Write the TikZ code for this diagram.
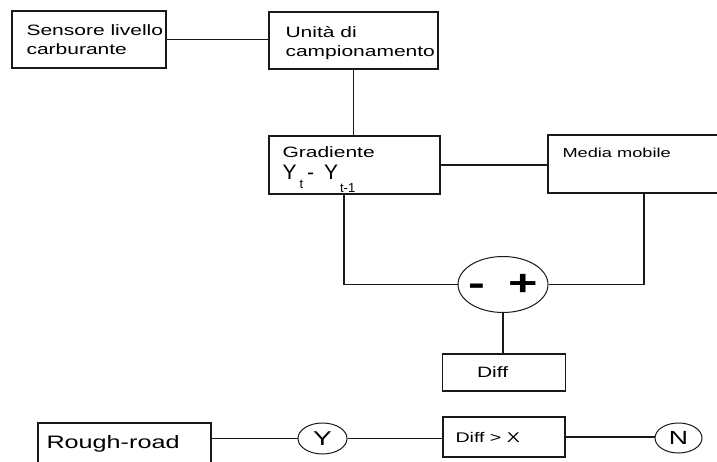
\documentclass[tikz,border=0pt]{standalone}
\usepackage{fontspec}
\setmainfont{Liberation Sans}[FakeStretch=1.4]
\newfontfamily\formulafont{Liberation Sans}
\usetikzlibrary{positioning,shapes.geometric}

\tikzset{
  block/.style={draw=black!90, line width=1.4pt, rectangle, inner sep=0pt},
  bubble/.style={draw=black!90, line width=1pt, ellipse, inner sep=0pt},
  wire/.style={draw=black!90, line width=1.4pt},
  txt/.style={inner sep=0pt, align=left, font=\fontsize{15}{19}\selectfont},
}

\begin{document}
\begin{tikzpicture}[x=1pt, y=-1pt]
  \useasboundingbox (0,0) rectangle (717,462);
  \fill[white] (0,0) rectangle (717,462);
  \clip (0,0) rectangle (717,462);

  % boxes
  \node[block, minimum width=154pt, minimum height=57pt] (sensore) at (89,39.5) {};
  \node[block, minimum width=169pt, minimum height=57pt] (unita) at (353.5,40.5) {};
  \node[block, minimum width=171pt, minimum height=58pt] (gradiente) at (354.5,165) {};
  \node[block, minimum width=192pt, minimum height=58pt] (media) at (644,164) {};
  \node[bubble, minimum width=90pt, minimum height=56pt] (sum) at (503,284.5)
    {\makebox[0pt]{\fontsize{36}{36}\selectfont\bfseries -\hspace{23pt}+}};
  \node[block, minimum width=123pt, minimum height=37pt] (diff) at (504,372.5) {};
  \node[block, minimum width=173pt, minimum height=41pt] (rough) at (124.5,443.5) {};
  \node[bubble, minimum width=49pt, minimum height=31pt] (yes) at (322.5,438.5)
    {\fontsize{20}{20}\selectfont Y};
  \node[block, minimum width=122pt, minimum height=40pt] (diffx) at (504,437) {};
  \node[bubble, minimum width=47pt, minimum height=30pt] (no) at (678.5,438)
    {\fontsize{19}{19}\selectfont N};

  % texts
  \node[txt, anchor=north west] (sensore-txt) at ([shift={(15pt,-14pt)}]sensore.north west)
    {Sensore livello\\carburante};
  \node[txt, anchor=north west] (unita-txt) at ([shift={(17pt,-15pt)}]unita.north west)
    {Unità di\\campionamento};
  \node[txt, anchor=base west] (grad-txt) at ([shift={(14pt,-22pt)}]gradiente.north west)
    {Gradiente};
  \node[txt, anchor=base west] (grad-formula) at ([shift={(14pt,-44pt)}]gradiente.north west)
    {\formulafont\fontsize{21}{21}\selectfont
     Y\hspace{3pt}\raisebox{-9pt}{\fontsize{13}{13}\selectfont t}\hspace{4pt}-\hspace{10pt}Y\hspace{2pt}\raisebox{-13pt}{\fontsize{13}{13}\selectfont t-1}};
  \node[txt, anchor=base west, font=\fontsize{13}{13}\selectfont] (media-txt)
    at ([shift={(15pt,-23pt)}]media.north west) {Media mobile};
  \node[txt, anchor=west] (diff-txt) at ([xshift=35pt]diff.west) {Diff};
  \node[txt, anchor=west, font=\fontsize{14}{14}\selectfont] (diffx-txt)
    at ([xshift=13pt]diffx.west) {Diff > X};
  \node[txt, anchor=base west, font=\fontsize{18}{18}\selectfont] (rough-txt)
    at ([shift={(9pt,-26pt)}]rough.north west) {Rough-road};

  % connections
  \draw[wire] (sensore.east) -- (sensore.east -| unita.west);
  \draw[wire] (unita.south) -- (unita.south |- gradiente.north);
  \draw[wire] (gradiente.east) -- (gradiente.east -| media.west);
  \draw[wire] ([xshift=-10.5pt]gradiente.south) |- (sum.west);
  \draw[wire] (media.south) |- (sum.east);
  \draw[wire] (sum.south) -- (sum.south |- diff.north);
  \draw[wire] (rough.east |- yes.west) -- (yes.west);
  \draw[wire] (yes.east) -- (yes.east -| diffx.west);
  \draw[wire] (diffx.east) -- (diffx.east -| no.west);
\end{tikzpicture}
\end{document}
